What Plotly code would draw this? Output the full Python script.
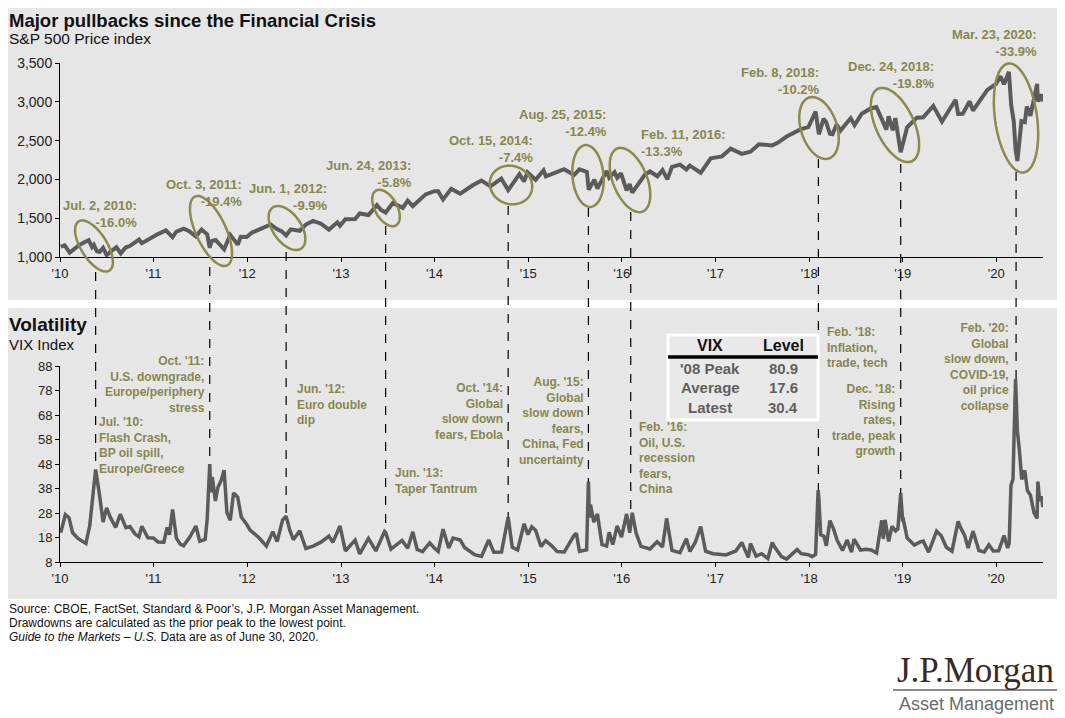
import math
import plotly.graph_objects as go

# picture size; the page shows the figure after the browser's 8px body margin
W, H = 1065, 718
OFF = 8
FW, FH = W - OFF, H - OFF

# ---------------- data ----------------
spx_dates = [
    "2010-01-04", "2010-01-19", "2010-02-08", "2010-02-26", "2010-03-15", "2010-04-06", "2010-04-23",
    "2010-05-06", "2010-05-13", "2010-05-25", "2010-06-04", "2010-06-18", "2010-07-02", "2010-07-16",
    "2010-08-09", "2010-08-26", "2010-09-15", "2010-09-30", "2010-10-15", "2010-11-05", "2010-11-16",
    "2010-12-15", "2010-12-31", "2011-01-18", "2011-02-18", "2011-03-16", "2011-03-31", "2011-04-29",
    "2011-05-20", "2011-06-15", "2011-07-07", "2011-07-29", "2011-08-08", "2011-08-15", "2011-08-31",
    "2011-09-22", "2011-10-03", "2011-10-27", "2011-11-25", "2011-12-07", "2011-12-30", "2012-01-20",
    "2012-02-29", "2012-04-02", "2012-04-23", "2012-05-15", "2012-06-01", "2012-06-19", "2012-07-24",
    "2012-08-17", "2012-09-14", "2012-10-15", "2012-11-15", "2012-12-18", "2012-12-28", "2013-01-18",
    "2013-02-25", "2013-03-15", "2013-04-18", "2013-05-21", "2013-06-05", "2013-06-24", "2013-07-22",
    "2013-08-30", "2013-09-18", "2013-10-08", "2013-11-27", "2013-12-31", "2014-01-15", "2014-02-03",
    "2014-03-07", "2014-04-11", "2014-05-30", "2014-07-03", "2014-08-07", "2014-09-18", "2014-10-15",
    "2014-11-28", "2014-12-16", "2014-12-29", "2015-01-30", "2015-03-02", "2015-03-11", "2015-05-21",
    "2015-06-29", "2015-07-20", "2015-08-18", "2015-08-25", "2015-09-16", "2015-09-28", "2015-11-03",
    "2015-11-13", "2015-12-04", "2015-12-14", "2015-12-29", "2016-01-20", "2016-02-01", "2016-02-11",
    "2016-03-31", "2016-04-20", "2016-05-19", "2016-06-08", "2016-06-27", "2016-07-15", "2016-08-15",
    "2016-09-09", "2016-09-22", "2016-11-04", "2016-12-13", "2017-01-26", "2017-03-01", "2017-04-13",
    "2017-05-17", "2017-06-19", "2017-08-10", "2017-08-31", "2017-10-05", "2017-11-30", "2017-12-29",
    "2018-01-26", "2018-02-08", "2018-02-26", "2018-03-08", "2018-03-23", "2018-04-02", "2018-04-18",
    "2018-05-03", "2018-06-12", "2018-06-27", "2018-07-25", "2018-08-29", "2018-09-20", "2018-10-10",
    "2018-10-29", "2018-11-07", "2018-11-23", "2018-12-03", "2018-12-24", "2019-01-18", "2019-02-25",
    "2019-03-22", "2019-04-30", "2019-06-03", "2019-07-26", "2019-08-05", "2019-08-23", "2019-09-19",
    "2019-10-02", "2019-11-27", "2019-12-31", "2020-01-17", "2020-01-31", "2020-02-19", "2020-02-28",
    "2020-03-09", "2020-03-16", "2020-03-23", "2020-04-08", "2020-04-21", "2020-04-29", "2020-05-13",
    "2020-06-08", "2020-06-11", "2020-06-19", "2020-06-26", "2020-06-30",
]
spx_values = [
    1133, 1150, 1056, 1104, 1150, 1190, 1217,
    1128, 1157, 1074, 1064, 1117, 1023, 1065,
    1128, 1047, 1125, 1141, 1176, 1225, 1178,
    1236, 1258, 1295, 1343, 1257, 1326, 1364,
    1333, 1266, 1354, 1292, 1119, 1204, 1219,
    1130, 1099, 1285, 1159, 1261, 1258, 1315,
    1366, 1419, 1366, 1330, 1278, 1357, 1338,
    1418, 1465, 1429, 1353, 1447, 1402, 1486,
    1488, 1561, 1541, 1669, 1609, 1573, 1696,
    1633, 1725, 1656, 1807, 1848, 1848, 1742,
    1878, 1815, 1924, 1985, 1910, 2011, 1862,
    2068, 1973, 2091, 1995, 2117, 2040, 2131,
    2058, 2129, 2097, 1868, 1996, 1882, 2109,
    2023, 2092, 2021, 2078, 1859, 1940, 1829,
    2060, 2102, 2040, 2119, 2001, 2162, 2190,
    2128, 2177, 2085, 2272, 2297, 2396, 2329,
    2357, 2453, 2438, 2472, 2552, 2648, 2674,
    2873, 2581, 2780, 2739, 2588, 2582, 2708,
    2630, 2787, 2699, 2846, 2914, 2931, 2786,
    2641, 2814, 2633, 2790, 2351, 2671, 2796,
    2801, 2946, 2744, 3026, 2845, 2847, 3006,
    2888, 3154, 3231, 3330, 3226, 3386, 2954,
    2747, 2386, 2237, 2750, 2737, 2939, 2820,
    3232, 3002, 3098, 3009, 3100,
]

vix_dates = [
    "2010-01-04", "2010-01-22", "2010-02-05", "2010-02-19", "2010-03-12", "2010-04-12", "2010-04-27",
    "2010-05-06", "2010-05-20", "2010-06-04", "2010-06-18", "2010-07-02", "2010-07-16", "2010-08-06",
    "2010-08-24", "2010-09-15", "2010-10-01", "2010-10-20", "2010-11-05", "2010-11-16", "2010-12-10",
    "2010-12-31", "2011-01-18", "2011-02-10", "2011-02-23", "2011-03-04", "2011-03-16", "2011-03-31",
    "2011-04-15", "2011-04-28", "2011-05-23", "2011-06-15", "2011-06-30", "2011-07-21", "2011-07-29",
    "2011-08-08", "2011-08-12", "2011-08-18", "2011-08-30", "2011-09-09", "2011-09-22", "2011-10-03",
    "2011-10-14", "2011-10-27", "2011-11-09", "2011-11-25", "2011-12-09", "2011-12-30", "2012-01-13",
    "2012-01-31", "2012-02-17", "2012-03-16", "2012-04-10", "2012-04-27", "2012-05-18", "2012-06-01",
    "2012-06-15", "2012-06-29", "2012-07-24", "2012-08-17", "2012-09-14", "2012-10-15", "2012-11-15",
    "2012-11-30", "2012-12-28", "2013-01-18", "2013-02-25", "2013-03-15", "2013-04-18", "2013-05-17",
    "2013-06-20", "2013-06-24", "2013-07-15", "2013-08-27", "2013-09-18", "2013-10-08", "2013-10-25",
    "2013-11-15", "2013-12-13", "2013-12-31", "2014-01-15", "2014-02-03", "2014-02-25", "2014-03-14",
    "2014-04-11", "2014-04-28", "2014-05-16", "2014-06-06", "2014-07-03", "2014-07-31", "2014-08-20",
    "2014-09-19", "2014-10-15", "2014-10-31", "2014-11-21", "2014-12-16", "2014-12-31", "2015-01-15",
    "2015-01-30", "2015-02-20", "2015-03-10", "2015-04-02", "2015-04-24", "2015-05-22", "2015-06-29",
    "2015-07-08", "2015-07-20", "2015-08-17", "2015-08-24", "2015-08-28", "2015-09-01", "2015-09-14",
    "2015-09-28", "2015-10-16", "2015-11-03", "2015-11-13", "2015-11-27", "2015-12-14", "2015-12-31",
    "2016-01-20", "2016-02-01", "2016-02-11", "2016-02-26", "2016-03-16", "2016-04-20", "2016-05-18",
    "2016-06-08", "2016-06-24", "2016-07-15", "2016-08-15", "2016-09-09", "2016-09-23", "2016-10-14",
    "2016-11-04", "2016-11-23", "2016-12-21", "2017-01-13", "2017-02-10", "2017-03-21", "2017-04-13",
    "2017-05-09", "2017-05-17", "2017-06-08", "2017-06-29", "2017-07-24", "2017-08-10", "2017-08-18",
    "2017-09-15", "2017-10-05", "2017-11-15", "2017-12-01", "2017-12-29", "2018-01-12", "2018-01-26",
    "2018-02-05", "2018-02-08", "2018-02-15", "2018-02-27", "2018-03-09", "2018-03-23", "2018-04-06",
    "2018-04-20", "2018-05-11", "2018-05-29", "2018-06-15", "2018-06-25", "2018-07-20", "2018-08-10",
    "2018-08-31", "2018-09-21", "2018-10-11", "2018-10-17", "2018-10-24", "2018-11-07", "2018-11-20",
    "2018-12-04", "2018-12-13", "2018-12-24", "2018-12-31", "2019-01-03", "2019-01-18", "2019-02-15",
    "2019-03-08", "2019-03-22", "2019-04-12", "2019-05-13", "2019-05-31", "2019-06-20", "2019-07-12",
    "2019-08-05", "2019-08-14", "2019-08-30", "2019-09-13", "2019-10-02", "2019-10-25", "2019-11-15",
    "2019-12-03", "2019-12-20", "2020-01-10", "2020-01-31", "2020-02-14", "2020-02-20", "2020-02-27",
    "2020-03-06", "2020-03-09", "2020-03-12", "2020-03-16", "2020-03-18", "2020-03-23", "2020-03-31",
    "2020-04-09", "2020-04-21", "2020-05-01", "2020-05-13", "2020-05-27", "2020-06-08", "2020-06-11",
    "2020-06-18", "2020-06-26", "2020-06-30",
]
vix_values = [
    20.0, 27.3, 26.1, 20.0, 17.6, 15.6, 22.8,
    32.8, 45.8, 35.5, 24.3, 30.1, 26.3, 22.1,
    27.5, 22.0, 22.5, 19.5, 18.3, 22.6, 17.9,
    17.8, 16.2, 16.1, 22.1, 19.1, 29.4, 17.7,
    15.3, 14.6, 18.3, 22.7, 16.5, 17.2, 25.3,
    48.0, 36.4, 42.7, 32.9, 38.5, 41.4, 45.5,
    28.2, 25.0, 36.2, 34.5, 26.4, 23.4, 20.9,
    19.4, 17.8, 14.5, 20.4, 16.3, 25.1, 26.7,
    21.1, 17.1, 20.7, 13.5, 14.5, 16.1, 18.6,
    16.0, 22.7, 12.5, 16.9, 11.3, 17.6, 12.5,
    20.5, 20.1, 13.3, 16.8, 13.6, 20.3, 13.1,
    12.2, 15.8, 13.7, 12.3, 21.4, 13.7, 17.8,
    17.0, 13.9, 12.4, 11.0, 10.3, 17.0, 12.0,
    12.1, 26.3, 14.0, 12.9, 23.6, 19.2, 22.4,
    21.0, 14.3, 16.7, 14.7, 12.3, 12.1, 18.9,
    19.7, 12.3, 13.0, 40.7, 26.1, 31.4, 24.3,
    27.6, 15.1, 14.5, 20.1, 15.1, 22.7, 18.2,
    27.6, 19.9, 28.1, 19.8, 14.4, 13.3, 16.3,
    14.1, 25.8, 12.7, 11.8, 17.5, 12.3, 16.1,
    22.5, 12.4, 11.4, 11.2, 10.9, 12.5, 16.0,
    9.8, 15.6, 10.4, 11.4, 9.4, 16.0, 14.3,
    10.2, 9.2, 13.1, 11.4, 11.0, 10.2, 11.1,
    37.3, 33.5, 19.1, 18.6, 14.6, 24.9, 21.5,
    16.9, 12.7, 17.0, 12.0, 17.3, 12.9, 13.2,
    12.9, 11.7, 25.0, 17.4, 25.2, 16.4, 22.5,
    20.7, 21.5, 36.1, 25.4, 25.5, 17.8, 14.9,
    16.1, 16.5, 12.0, 20.6, 18.7, 14.0, 12.4,
    24.6, 22.1, 19.0, 13.7, 20.6, 12.7, 12.1,
    15.0, 12.5, 12.6, 18.8, 13.7, 15.6, 39.2,
    41.9, 54.5, 75.5, 82.7, 76.5, 61.6, 53.5,
    41.7, 45.4, 37.2, 35.3, 28.0, 25.8, 40.8,
    32.9, 34.7, 30.4,
]

year_ticks = ["2010-01-01", "2011-01-01", "2012-01-01", "2013-01-01", "2014-01-01", "2015-01-01",
              "2016-01-01", "2017-01-01", "2018-01-01", "2019-01-01", "2020-01-01"]
year_labels = ["'10", "'11", "'12", "'13", "'14", "'15", "'16", "'17", "'18", "'19", "'20"]
spx_ticks = [1000, 1500, 2000, 2500, 3000, 3500]
vix_ticks = [8, 18, 28, 38, 48, 58, 68, 78, 88]

pullback_labels = [
    "Jul. 2, 2010:<br>-16.0%", "Oct. 3, 2011:<br>-19.4%", "Jun. 1, 2012:<br>-9.9%",
    "Jun. 24, 2013:<br>-5.8%", "Oct. 15, 2014:<br>-7.4%", "Aug. 25, 2015:<br>-12.4%",
    "Feb. 11, 2016:<br>-13.3%", "Feb. 8, 2018:<br>-10.2%", "Dec. 24, 2018:<br>-19.8%",
    "Mar. 23, 2020:<br>-33.9%",
]
event_dates = ["2010-05-20", "2011-08-08", "2012-06-01", "2013-06-24", "2014-10-15", "2015-08-24",
               "2016-02-05", "2018-02-06", "2018-12-24", "2020-03-18"]
event_vix = [45.8, 48.0, 26.7, 20.5, 26.3, 40.7, 28.1, 37.3, 36.1, 82.7]
vix_notes = [
    "Jul. '10:<br>Flash Crash,<br>BP oil spill,<br>Europe/Greece",
    "Oct. '11:<br>U.S. downgrade,<br>Europe/periphery<br>stress",
    "Jun. '12:<br>Euro double<br>dip",
    "Jun. '13:<br>Taper Tantrum",
    "Oct. '14:<br>Global<br>slow down<br>fears, Ebola",
    "Aug. '15:<br>Global<br>slow down<br>fears,<br>China, Fed<br>uncertainty",
    "Feb. '16:<br>Oil, U.S.<br>recession<br>fears,<br>China",
    "Feb. '18:<br>Inflation,<br>trade, tech",
    "Dec. '18:<br>Rising<br>rates,<br>trade, peak<br>growth",
    "Feb. '20:<br>Global<br>slow down,<br>COVID-19,<br>oil price<br>collapse",
]
table_header = ["VIX", "Level"]
table_rows = ["'08 Peak", "Average", "Latest"]
table_levels = ["80.9", "17.6", "30.4"]

# ---------------- layout helpers (picture pixels -> paper) ----------------
def px(x):
    return (x - OFF) / FW

def py(y):
    return 1 - (y - OFF) / FH

X0, X1 = 60, 1043
TOP = (63, 257)
BOT = (366, 562)
VIX_MIN, VIX_MAX = 8, 88

FONT = "Liberation Sans, Arial, sans-serif"
OLIVE = "#87874f"
LINE = "#5b5b5b"
PANEL = "#e6e6e6"

fig = go.Figure()
fig.add_trace(go.Scatter(x=spx_dates, y=spx_values, mode="lines",
                         line=dict(color=LINE, width=4), xaxis="x", yaxis="y",
                         hoverinfo="skip", showlegend=False))
fig.add_trace(go.Scatter(x=vix_dates, y=vix_values, mode="lines",
                         line=dict(color=LINE, width=3.5), xaxis="x2", yaxis="y2",
                         hoverinfo="skip", showlegend=False))

axis_common = dict(showline=True, linecolor="black", linewidth=1, ticks="outside",
                   ticklen=4, tickcolor="black", showgrid=False, zeroline=False,
                   tickfont=dict(family=FONT, size=13, color="#222"))
xr = ["2010-01-01", "2020-07-01"]
fig.update_layout(
    width=FW, height=FH, autosize=False, showlegend=False,
    margin=dict(l=0, r=0, t=0, b=0, pad=0, autoexpand=False),
    paper_bgcolor="white", plot_bgcolor="rgba(0,0,0,0)",
    xaxis=dict(domain=[px(X0), px(X1)], anchor="y", type="date", range=xr,
               tickvals=year_ticks, ticktext=year_labels, **axis_common),
    yaxis=dict(domain=[py(TOP[1]), py(TOP[0])], anchor="x", range=[1000, 3500],
               tickvals=spx_ticks, tickformat=",d",
               **{**axis_common, "tickfont": dict(family=FONT, size=14, color="#222")}),
    xaxis2=dict(domain=[px(X0), px(X1)], anchor="y2", type="date", range=xr,
                tickvals=year_ticks, ticktext=year_labels, **axis_common),
    yaxis2=dict(domain=[py(BOT[1]), py(BOT[0])], anchor="x2", range=[VIX_MIN, VIX_MAX],
                tickvals=vix_ticks, **axis_common),
)

shapes = []
# panels
shapes.append(dict(type="rect", xref="paper", yref="paper", x0=0, x1=px(1060), y0=py(300), y1=1,
                   fillcolor=PANEL, line=dict(width=0), layer="below"))
shapes.append(dict(type="rect", xref="paper", yref="paper", x0=0, x1=px(1060), y0=py(599), y1=py(308),
                   fillcolor=PANEL, line=dict(width=0), layer="below"))

# ellipses (pixel centre, semi-axes, tilt)
ellipses = [
    (94, 246, 29, 13, 58), (211, 231, 38, 15, 65), (287, 228, 25, 14, 55),
    (386, 208, 20, 11, 60), (511, 185, 21.5, 19, 20), (588, 176, 31, 15.5, 85),
    (630, 180, 34, 17, 68), (819, 128, 32, 18, 72), (895, 125, 40, 19, 65),
    (1016, 118, 55, 21, 82),
]

def ellipse_path(cx, cy, a, b, deg):
    phi = math.radians(deg)
    pts = []
    for k in range(73):
        t = 2 * math.pi * k / 72
        x = cx + a * math.cos(t) * math.cos(phi) - b * math.sin(t) * math.sin(phi)
        y = cy + a * math.cos(t) * math.sin(phi) + b * math.sin(t) * math.cos(phi)
        pts.append(f"{px(x):.5f},{py(y):.5f}")
    return "M " + " L ".join(pts) + " Z"

for e in ellipses:
    shapes.append(dict(type="path", xref="paper", yref="paper", path=ellipse_path(*e),
                       line=dict(color="#8a8a4c", width=2.5), layer="above"))

# dashed connector lines: from the ellipse bottom down to the VIX spike
line_start_px = [272, 267, 252, 226, 206, 208, 212, 159, 164, 172]

def vix_to_paper(v):
    ypix = BOT[1] - (v - VIX_MIN) / (VIX_MAX - VIX_MIN) * (BOT[1] - BOT[0])
    return py(ypix)

for d, v, s in zip(event_dates, event_vix, line_start_px):
    shapes.append(dict(type="line", xref="x", yref="paper", x0=d, x1=d, y0=py(s), y1=vix_to_paper(v),
                       line=dict(color="black", width=1.2, dash="dash"), layer="above"))

# table
shapes.append(dict(type="rect", xref="paper", yref="paper", x0=px(668), x1=px(818), y0=py(420), y1=py(335),
                   fillcolor="#e9e9e9", line=dict(color="white", width=3), layer="above"))
shapes.append(dict(type="line", xref="paper", yref="paper", x0=px(668), x1=px(818), y0=py(357), y1=py(357),
                   line=dict(color="black", width=3.5), layer="above"))

# logo underline
shapes.append(dict(type="line", xref="paper", yref="paper", x0=px(893), x1=px(1058), y0=py(690), y1=py(690),
                   line=dict(color="#8a8a8a", width=2)))

annotations = []

def note(text, x, y, xanchor="left", yanchor="middle", size=12, color="black", bold=False,
         family=FONT):
    align = xanchor if xanchor in ("left", "right") else "center"
    annotations.append(dict(text=(f"<b>{text}</b>" if bold else text), x=px(x), y=py(y),
                            xref="paper", yref="paper", xanchor=xanchor, yanchor=yanchor,
                            showarrow=False, align=align, borderpad=0,
                            font=dict(family=family, size=size, color=color)))

# titles (kept inside the visible page area)
note("Major pullbacks since the Financial Crisis", 8, 9, yanchor="top", size=18.5, bold=True, color="#111")
note("S&P 500 Price index", 8, 39, size=15.5, color="#111")
note("Volatility", 8, 324, size=19, bold=True, color="#111")
note("VIX Index", 8, 344, size=15, color="#111")

# pullback labels in top panel: (x pixel, top pixel, anchor)
top_pos = [(138, 197, "right"), (243, 176, "right"), (328, 180, "right"), (413, 157, "right"),
           (534, 132, "right"), (608, 106, "right"), (640, 126, "left"), (820, 64, "right"),
           (935, 58, "right"), (1038, 26, "right")]
for txt, (x, y, anc) in zip(pullback_labels, top_pos):
    note(txt, x, y, xanchor=anc, yanchor="top", size=13, bold=True, color=OLIVE)

# VIX notes in bottom panel
bot_pos = [(98, 414, "left"), (206, 353, "right"), (296, 381, "left"), (394, 465, "left"),
           (504, 380, "right"), (585, 374, "right"), (638, 419, "left"), (826, 324, "left"),
           (897, 381, "right"), (1010, 320, "right")]
for txt, (x, y, anc) in zip(vix_notes, bot_pos):
    note(txt, x, y, xanchor=anc, yanchor="top", size=12, bold=True, color=OLIVE)

# table text
col_x = [710, 783]
for hx, h in zip(col_x, table_header):
    note(h, hx, 345, xanchor="center", size=16, bold=True, color="#111")
for i, (lab, lev) in enumerate(zip(table_rows, table_levels)):
    yy = 368 + i * 19.5
    note(lab, col_x[0], yy, xanchor="center", size=15, bold=True, color="#5f5f5f")
    note(lev, col_x[1], yy, xanchor="center", size=15, bold=True, color="#5f5f5f")

# footer
note("Source: CBOE, FactSet, Standard & Poor’s, J.P. Morgan Asset Management.", 8, 609, size=12, color="#111")
note("Drawdowns are calculated as the prior peak to the lowest point.", 8, 623, size=12, color="#111")
note("<i>Guide to the Markets – U.S.</i> Data are as of June 30, 2020.", 8, 637, size=12, color="#111")

# logo
note("J.P.Morgan", 975, 670, xanchor="center", size=35, color="#3b2a22",
     family="Liberation Serif, Times New Roman, serif")
note("Asset Management", 976, 704, xanchor="center", size=18, color="#6b6b6b")

fig.update_layout(shapes=shapes, annotations=annotations)
fig.write_html("out.html", config={"displayModeBar": False})
